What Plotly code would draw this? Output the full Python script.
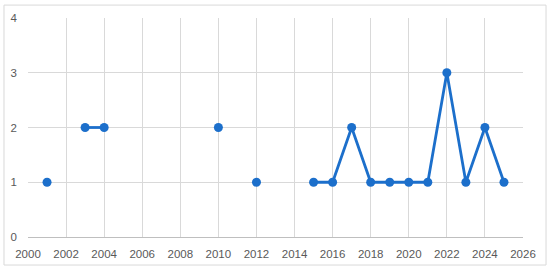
import plotly.graph_objects as go

# publications per year; None where no line should be drawn (year missing)
years = list(range(2001, 2026))
counts = [1, None, 2, 2, None, None, None, None, None, 2, None, 1, None, None,
          1, 1, 2, 1, 1, 1, 1, 3, 1, 2, 1]

x_ticks = list(range(2000, 2027, 2))
y_ticks = [0, 1, 2, 3, 4]

blue = '#1c6fcb'
grey_text = '#595959'

fig = go.Figure()
fig.add_trace(go.Scatter(x=years, y=counts, mode='lines+markers',
                         connectgaps=False,
                         line=dict(color=blue, width=2.8),
                         marker=dict(color=blue, size=9)))

fig.update_layout(
    width=550, height=271,
    margin=dict(l=28, r=27, t=18, b=34, autoexpand=False),
    paper_bgcolor='white', plot_bgcolor='white',
    showlegend=False,
    font=dict(family='Liberation Sans, Arial, sans-serif', size=11.5, color=grey_text),
    shapes=[dict(type='rect', xref='paper', yref='paper',
                 x0=-0.0485, x1=1.0465, y0=-0.128, y1=1.059,
                 line=dict(color='#d9d9d9', width=1))],
)
fig.update_xaxes(range=[2000, 2026], tickvals=x_ticks, showgrid=True,
                 gridcolor='#d9d9d9', gridwidth=1, zeroline=False,
                 showline=True, linecolor='#bfbfbf', ticks='', ticklen=0,
                 automargin=False, ticklabelstandoff=6)
fig.update_yaxes(range=[0, 4], tickvals=y_ticks, showgrid=True,
                 gridcolor='#d9d9d9', gridwidth=1, zeroline=False,
                 showline=False, ticks='', ticklen=0,
                 automargin=False, ticklabelstandoff=10)

# browser default body margin would shift the figure by 8px
fig.write_html("out.html", config={'displayModeBar': False},
               post_script="document.body.style.margin='0';")
